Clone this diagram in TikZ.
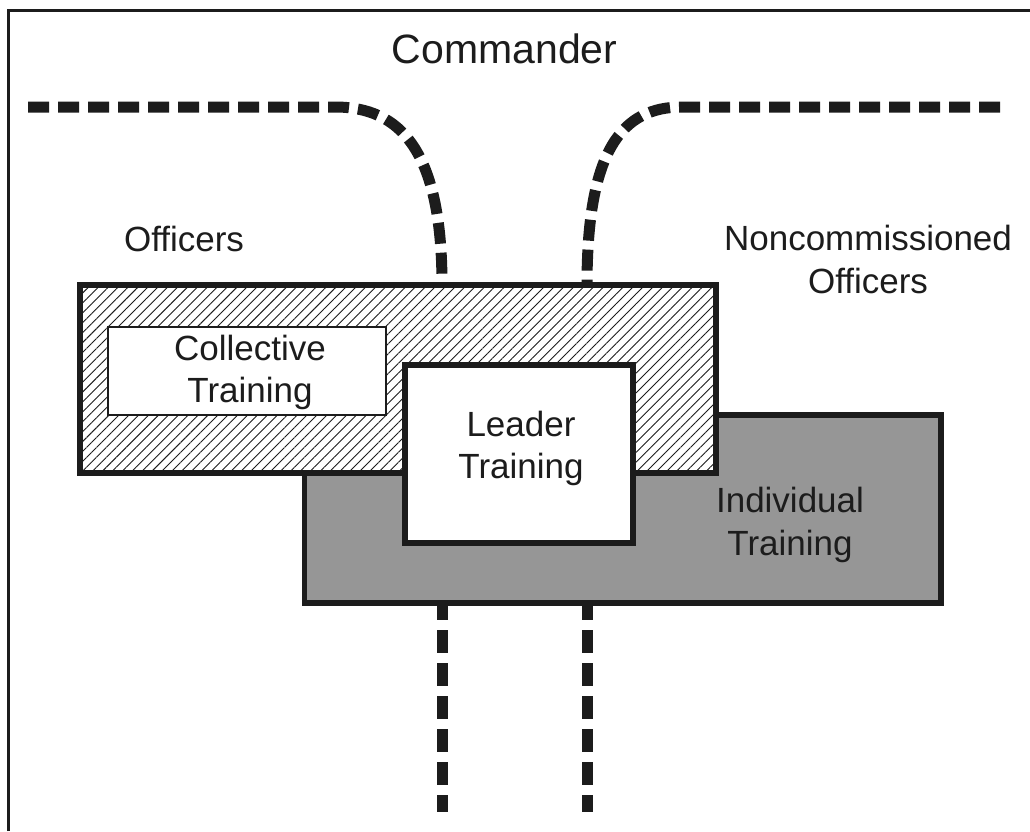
\documentclass[tikz,border=0pt]{standalone}
\usepackage{fontspec}
\setmainfont{Liberation Sans}
\usetikzlibrary{patterns.meta,calc}
\definecolor{ink}{RGB}{28,28,28}
\definecolor{greyfill}{RGB}{150,150,150}
\begin{document}
\begin{tikzpicture}[x=1pt,y=-1pt,
  box/.style={draw=ink,line width=5.5pt,rectangle,inner sep=0pt,outer sep=0pt},
  lbl/.style={text=ink,inner sep=0pt,font=\fontsize{35}{43}\selectfont,align=center,anchor=base},
  topdash/.style={draw=ink,line width=11pt,dash pattern=on 21pt off 9pt},
  botdash/.style={draw=ink,line width=11pt,dash pattern=on 23pt off 10pt,dash phase=6pt}]
\useasboundingbox (0,0) rectangle (1030,831);
\fill[white] (0,0) rectangle (1030,831);
\draw[ink,line width=3pt] (8,831) -- (8,10) -- (1030,10);

% boxes (bottom to top)
\node[box,fill=greyfill,minimum width=636.5pt,minimum height=188pt] (ind) at (622.75,509) {};
\node[box,preaction={fill=white},pattern={Lines[angle=45,distance=7pt,line width=0.9pt]},pattern color=ink,minimum width=636pt,minimum height=188pt] (offbox) at (398,379) {};
\node[box,line width=2pt,fill=white,minimum width=278pt,minimum height=88pt] (col) at (247,371) {};
\node[box,fill=white,minimum width=228pt,minimum height=178pt] (lead) at (519,454) {};

% labels (anchor base = baseline of the last line)
\node[lbl,font=\fontsize{41}{49}\selectfont] (cmd) at (504.5,63) {Commander};
\node[lbl] (offl) at (184,251) {Officers};
\node[lbl] (nco) at (868,293) {Noncommissioned\\Officers};
\node[lbl,font=\fontsize{35}{42}\selectfont] (colt) at (250,402) {Collective\\Training};
\node[lbl,font=\fontsize{35}{42}\selectfont] (leadt) at (521,478) {Leader\\Training};
\node[lbl] (indt) at (790,555) {Individual\\Training};

% dashed connectors
\coordinate (tl) at (28,107);
\coordinate (tr) at (1000,107);
\coordinate (lb) at (442,812);
\coordinate (rb) at (587,812);
\draw[topdash] (tl) -- (335,107) .. controls (400,107) and (442,150) .. (offbox.north -| lb);
\draw[topdash] (tr) -- (682,107) .. controls (622,107) and (587,150) .. (offbox.north -| rb);
\draw[botdash] (ind.south -| lb) -- (lb);
\draw[botdash] (ind.south -| rb) -- (rb);
\end{tikzpicture}
\end{document}
